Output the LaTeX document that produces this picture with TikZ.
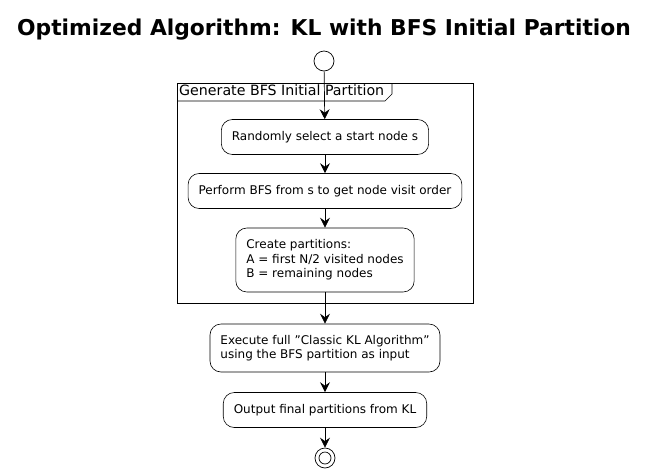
\documentclass[tikz,border=0pt]{standalone}
\usepackage{fontspec}
\setmainfont{DejaVu Sans}
\usepackage{tikz}
\usetikzlibrary{arrows.meta,positioning,calc}

\begin{document}
\begin{tikzpicture}[
    x=1pt, y=-1pt,
    actbox/.style={rectangle, rounded corners=11pt, draw=black, line width=0.6pt, fill=white, font=\fontsize{12}{14.5}\selectfont, inner xsep=10.5pt, minimum height=35pt},
    endcircle/.style={circle, draw, line width=0.7pt, inner sep=0pt},
    flowarrow/.style={-{Stealth[length=10pt, width=10pt, inset=3.5pt]}, line width=0.7pt}
]
    \useasboundingbox (0,0) rectangle (649,475);

    % Title
    \node[font=\fontsize{21.8}{24}\bfseries] (TITLE) at (324, 30) {Optimized Algorithm: KL with BFS Initial Partition};

    % Start
    \node[endcircle, minimum size=20pt] (START) at (324, 61) {};

    % Frame of the partition group
    \draw[line width=0.7pt] (177, 83) rectangle (473, 303);
    \node[anchor=north west, inner sep=1pt, font=\fontsize{14.2}{15}\selectfont] (FRAMELBL) at (178, 83.5) {Generate BFS Initial Partition};
    \draw[line width=0.6pt] (177, 101) -- (385, 101) -- (392, 94) -- (392, 83);

    % Activities
    \node[actbox] (RAND) at (325, 137) {Randomly select a start node s};
    \node[actbox] (BFS) at (325, 191) {Perform BFS from s to get node visit order};
    \node[actbox, align=left, minimum height=64pt] (PART) at (325, 260) {Create partitions:\\A = first N/2 visited nodes\\B = remaining nodes};
    \node[actbox, align=left, minimum height=48pt] (KL) at (325, 348) {Execute full \symbol{34}Classic KL Algorithm\symbol{34}\\using the BFS partition as input};
    \node[actbox] (OUT) at (325, 410) {Output final partitions from KL};

    % End
    \node[endcircle, minimum size=20pt] (STOP) at (325, 458) {};
    \node[endcircle, minimum size=12pt] (STOPIN) at (325, 458) {};

    \draw[flowarrow] (START) -- (RAND);
    \draw[flowarrow] (RAND) -- (BFS);
    \draw[flowarrow] (BFS) -- (PART);
    \draw[flowarrow] (PART) -- (KL);
    \draw[flowarrow] (KL) -- (OUT);
    \draw[flowarrow] (OUT) -- (STOP);
\end{tikzpicture}
\end{document}
